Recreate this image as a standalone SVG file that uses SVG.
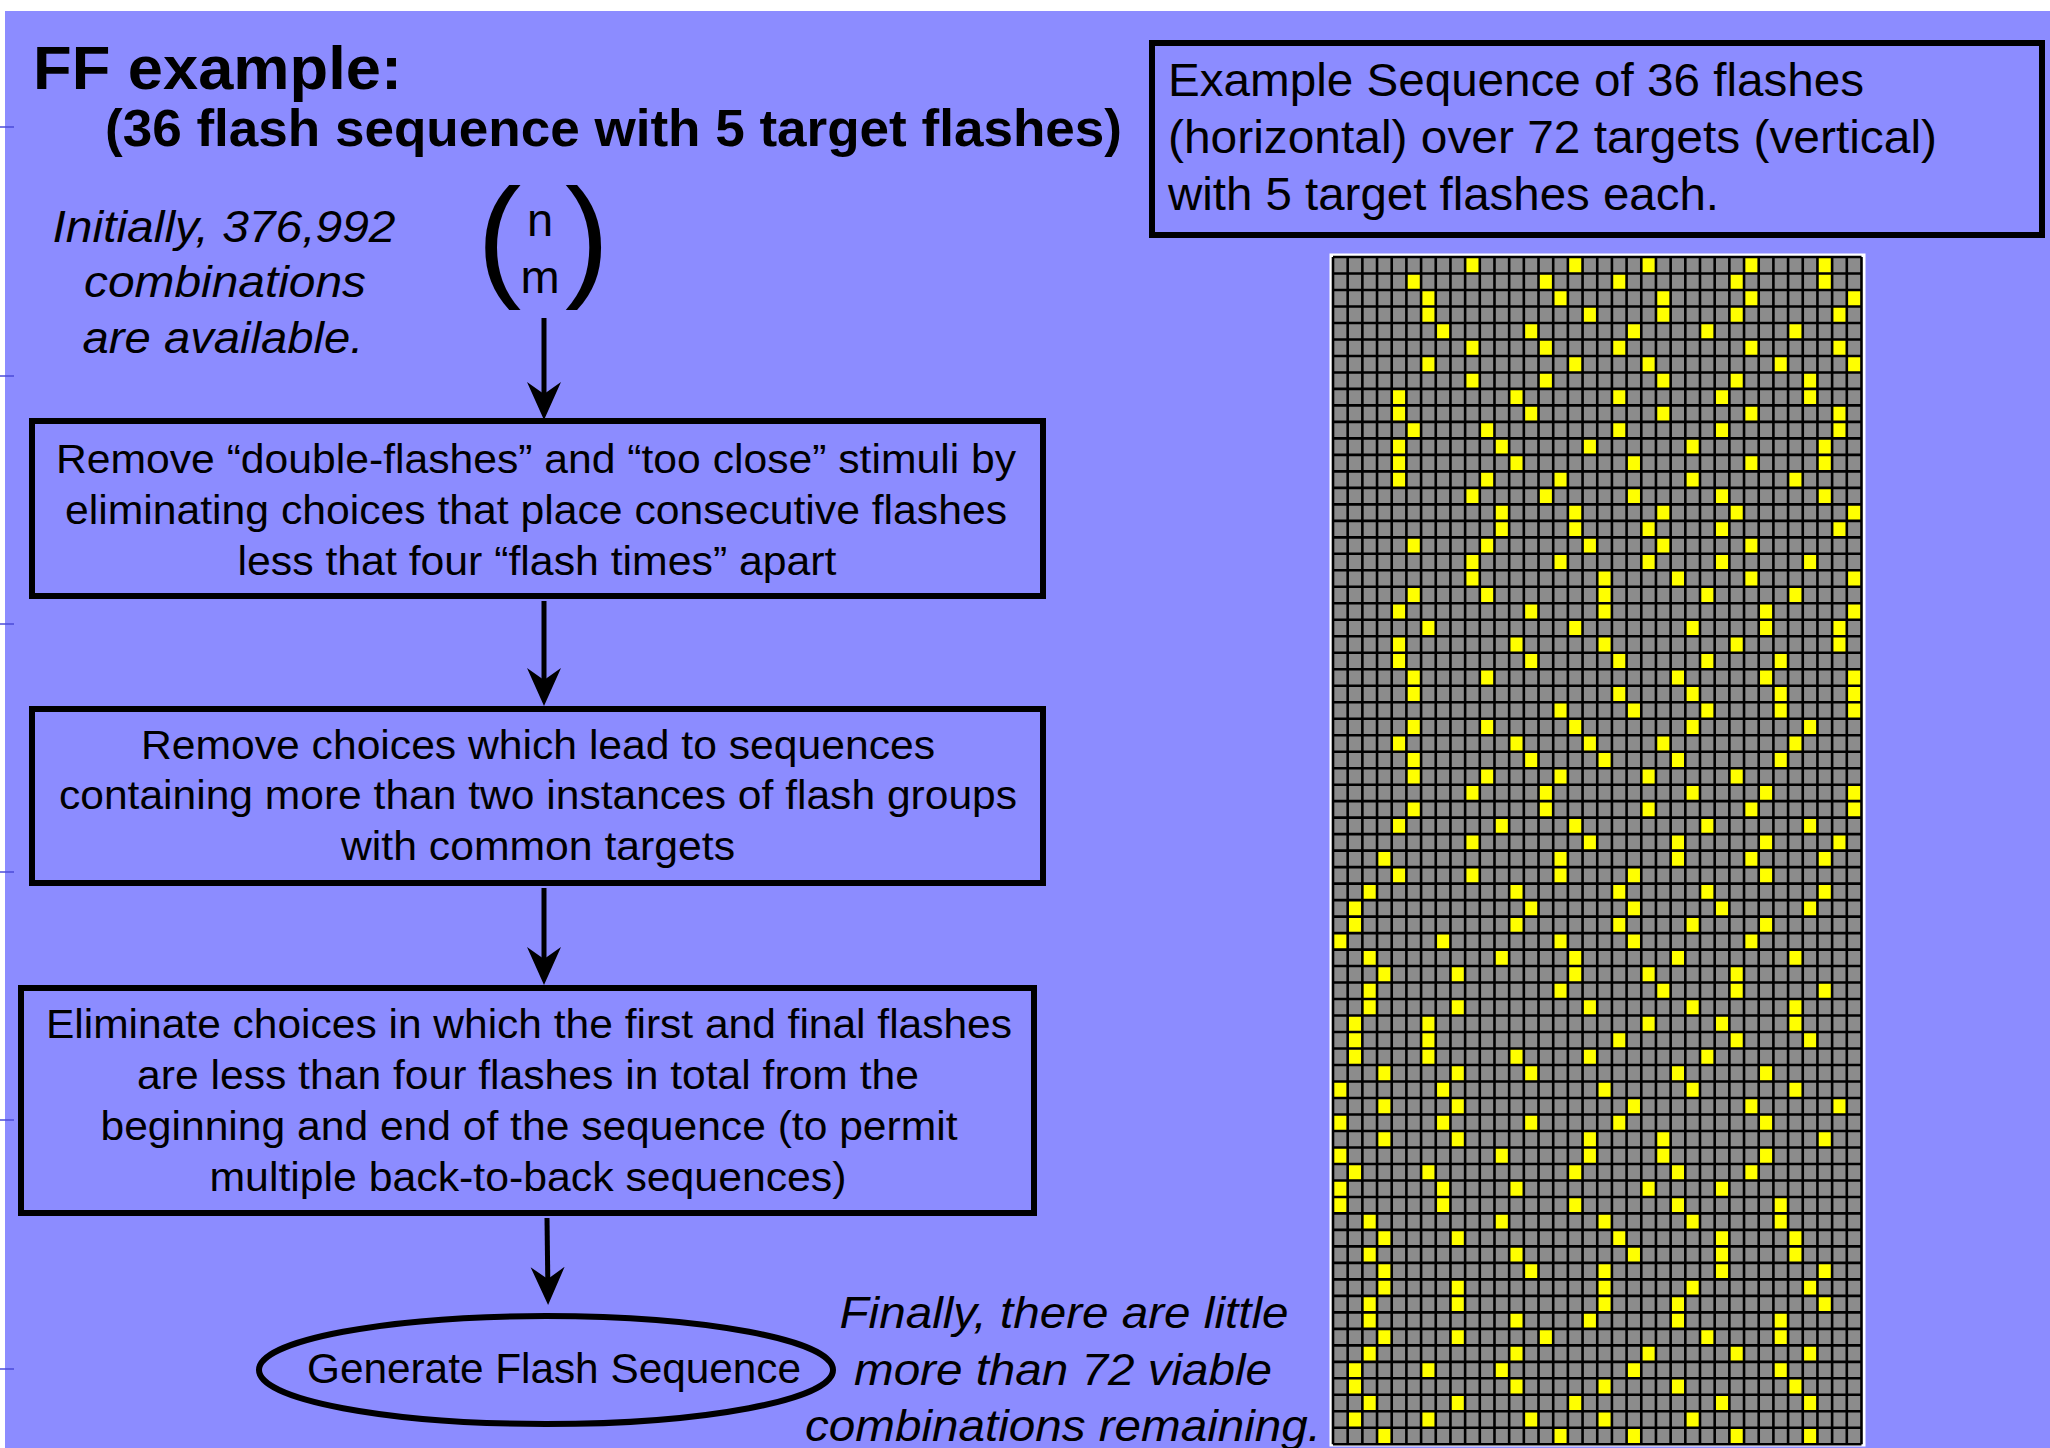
<svg xmlns="http://www.w3.org/2000/svg" width="2050" height="1448" viewBox="0 0 2050 1448">
<defs>
<style>
.t{font-family:"Liberation Sans",Arial,Helvetica,sans-serif;fill:#000}
.b{font-weight:bold}
.i{font-style:italic}
.box{fill:none;stroke:#000;stroke-width:6}
.conn{stroke:#000;stroke-width:5;fill:none;marker-end:url(#ah)}
.tick{stroke:#4b4bd8;stroke-width:1.5}
</style>
<marker id="ah" markerUnits="userSpaceOnUse" viewBox="-40 -20 50 40" refX="0" refY="0" markerWidth="50" markerHeight="40" orient="auto">
<path d="M8,0 L-30,-17 L-18,0 L-30,17 Z" fill="#000"/>
</marker>
</defs>
<rect width="2050" height="1448" fill="#fff"/>
<rect x="5" y="11" width="2045" height="1437" fill="#8c8cff"/>
<g id="edge-ticks">
<line class="tick" x1="0" y1="127" x2="14" y2="127"/>
<line class="tick" x1="0" y1="376" x2="14" y2="376"/>
<line class="tick" x1="0" y1="624" x2="14" y2="624"/>
<line class="tick" x1="0" y1="872" x2="14" y2="872"/>
<line class="tick" x1="0" y1="1120" x2="14" y2="1120"/>
<line class="tick" x1="0" y1="1369" x2="14" y2="1369"/>
</g>
<g id="title">
<text class="t b" x="33" y="89" font-size="62" textLength="369" lengthAdjust="spacingAndGlyphs">FF example:</text>
<text class="t b" x="105" y="146" font-size="52" textLength="1017" lengthAdjust="spacingAndGlyphs">(36 flash sequence with 5 target flashes)</text>
</g>
<g id="note-initial">
<text class="t i" x="224" y="242" font-size="44" text-anchor="middle" textLength="343" lengthAdjust="spacingAndGlyphs">Initially, 376,992</text>
<text class="t i" x="225" y="297" font-size="44" text-anchor="middle" textLength="282" lengthAdjust="spacingAndGlyphs">combinations</text>
<text class="t i" x="223" y="353" font-size="44" text-anchor="middle" textLength="281" lengthAdjust="spacingAndGlyphs">are available.</text>
</g>
<g id="binomial">
<text class="t" x="477" y="282" font-size="133">(</text>
<text class="t" x="565" y="282" font-size="133">)</text>
<text class="t" x="540" y="236" font-size="47" text-anchor="middle">n</text>
<text class="t" x="540" y="293" font-size="47" text-anchor="middle">m</text>
</g>
<g id="step-remove-close">
<rect class="box" x="32" y="421" width="1011" height="175"/>
<text class="t" x="536" y="473" font-size="40" text-anchor="middle" textLength="960" lengthAdjust="spacingAndGlyphs">Remove “double-flashes” and “too close” stimuli by</text>
<text class="t" x="536" y="524" font-size="40" text-anchor="middle" textLength="942" lengthAdjust="spacingAndGlyphs">eliminating choices that place consecutive flashes</text>
<text class="t" x="537" y="575" font-size="40" text-anchor="middle" textLength="599" lengthAdjust="spacingAndGlyphs">less that four “flash times” apart</text>
</g>
<g id="step-remove-groups">
<rect class="box" x="32" y="709" width="1011" height="174"/>
<text class="t" x="538" y="759" font-size="40" text-anchor="middle" textLength="794" lengthAdjust="spacingAndGlyphs">Remove choices which lead to sequences</text>
<text class="t" x="538" y="809" font-size="40" text-anchor="middle" textLength="958" lengthAdjust="spacingAndGlyphs">containing more than two instances of flash groups</text>
<text class="t" x="538" y="860" font-size="40" text-anchor="middle" textLength="394" lengthAdjust="spacingAndGlyphs">with common targets</text>
</g>
<g id="step-eliminate-ends">
<rect class="box" x="21" y="988" width="1013" height="225"/>
<text class="t" x="529" y="1038" font-size="40" text-anchor="middle" textLength="966" lengthAdjust="spacingAndGlyphs">Eliminate choices in which the first and final flashes</text>
<text class="t" x="528" y="1089" font-size="40" text-anchor="middle" textLength="782" lengthAdjust="spacingAndGlyphs">are less than four flashes in total from the</text>
<text class="t" x="529" y="1140" font-size="40" text-anchor="middle" textLength="857" lengthAdjust="spacingAndGlyphs">beginning and end of the sequence (to permit</text>
<text class="t" x="528" y="1191" font-size="40" text-anchor="middle" textLength="637" lengthAdjust="spacingAndGlyphs">multiple back-to-back sequences)</text>
</g>
<g id="generate">
<ellipse cx="546" cy="1370" rx="287" ry="54" fill="none" stroke="#000" stroke-width="6"/>
<text class="t" x="554" y="1383" font-size="42" text-anchor="middle" textLength="494" lengthAdjust="spacingAndGlyphs">Generate Flash Sequence</text>
</g>
<g id="note-final">
<text class="t i" x="1064" y="1328" font-size="44" text-anchor="middle" textLength="449" lengthAdjust="spacingAndGlyphs">Finally, there are little</text>
<text class="t i" x="1063" y="1385" font-size="44" text-anchor="middle" textLength="418" lengthAdjust="spacingAndGlyphs">more than 72 viable</text>
<text class="t i" x="1063" y="1441" font-size="44" text-anchor="middle" textLength="516" lengthAdjust="spacingAndGlyphs">combinations remaining.</text>
</g>
<g id="caption-box">
<rect class="box" x="1152" y="43" width="890" height="192"/>
<text class="t" x="1168" y="96" font-size="46" textLength="696" lengthAdjust="spacingAndGlyphs">Example Sequence of 36 flashes</text>
<text class="t" x="1168" y="153" font-size="46" textLength="769" lengthAdjust="spacingAndGlyphs">(horizontal) over 72 targets (vertical)</text>
<text class="t" x="1168" y="210" font-size="46" textLength="551" lengthAdjust="spacingAndGlyphs">with 5 target flashes each.</text>
</g>
<g id="sequence-grid">
<rect x="1329.5" y="253.5" width="536" height="1193" fill="#fff"/>
<g transform="translate(1333 257) scale(14.68 16.49)">
<rect width="36" height="72" fill="#8c8c8c"/>
<path fill="#ffff00" d="M9 0h1v1h-1zM16 0h1v1h-1zM21 0h1v1h-1zM28 0h1v1h-1zM33 0h1v1h-1z
M5 1h1v1h-1zM14 1h1v1h-1zM19 1h1v1h-1zM27 1h1v1h-1zM33 1h1v1h-1z
M6 2h1v1h-1zM15 2h1v1h-1zM22 2h1v1h-1zM28 2h1v1h-1zM35 2h1v1h-1z
M6 3h1v1h-1zM17 3h1v1h-1zM22 3h1v1h-1zM27 3h1v1h-1zM34 3h1v1h-1z
M7 4h1v1h-1zM13 4h1v1h-1zM20 4h1v1h-1zM25 4h1v1h-1zM31 4h1v1h-1z
M9 5h1v1h-1zM14 5h1v1h-1zM19 5h1v1h-1zM28 5h1v1h-1zM34 5h1v1h-1z
M6 6h1v1h-1zM16 6h1v1h-1zM21 6h1v1h-1zM30 6h1v1h-1zM35 6h1v1h-1z
M9 7h1v1h-1zM14 7h1v1h-1zM22 7h1v1h-1zM27 7h1v1h-1zM32 7h1v1h-1z
M4 8h1v1h-1zM12 8h1v1h-1zM19 8h1v1h-1zM26 8h1v1h-1zM32 8h1v1h-1z
M4 9h1v1h-1zM13 9h1v1h-1zM22 9h1v1h-1zM28 9h1v1h-1zM34 9h1v1h-1z
M5 10h1v1h-1zM10 10h1v1h-1zM19 10h1v1h-1zM26 10h1v1h-1zM34 10h1v1h-1z
M4 11h1v1h-1zM11 11h1v1h-1zM17 11h1v1h-1zM24 11h1v1h-1zM33 11h1v1h-1z
M4 12h1v1h-1zM12 12h1v1h-1zM20 12h1v1h-1zM28 12h1v1h-1zM33 12h1v1h-1z
M4 13h1v1h-1zM10 13h1v1h-1zM15 13h1v1h-1zM24 13h1v1h-1zM31 13h1v1h-1z
M9 14h1v1h-1zM14 14h1v1h-1zM20 14h1v1h-1zM26 14h1v1h-1zM33 14h1v1h-1z
M11 15h1v1h-1zM16 15h1v1h-1zM22 15h1v1h-1zM27 15h1v1h-1zM35 15h1v1h-1z
M11 16h1v1h-1zM16 16h1v1h-1zM21 16h1v1h-1zM26 16h1v1h-1zM34 16h1v1h-1z
M5 17h1v1h-1zM10 17h1v1h-1zM17 17h1v1h-1zM22 17h1v1h-1zM28 17h1v1h-1z
M9 18h1v1h-1zM15 18h1v1h-1zM21 18h1v1h-1zM26 18h1v1h-1zM32 18h1v1h-1z
M9 19h1v1h-1zM18 19h1v1h-1zM23 19h1v1h-1zM28 19h1v1h-1zM35 19h1v1h-1z
M5 20h1v1h-1zM10 20h1v1h-1zM18 20h1v1h-1zM25 20h1v1h-1zM31 20h1v1h-1z
M4 21h1v1h-1zM13 21h1v1h-1zM18 21h1v1h-1zM29 21h1v1h-1zM35 21h1v1h-1z
M6 22h1v1h-1zM16 22h1v1h-1zM24 22h1v1h-1zM29 22h1v1h-1zM34 22h1v1h-1z
M4 23h1v1h-1zM12 23h1v1h-1zM18 23h1v1h-1zM27 23h1v1h-1zM34 23h1v1h-1z
M4 24h1v1h-1zM13 24h1v1h-1zM19 24h1v1h-1zM25 24h1v1h-1zM30 24h1v1h-1z
M5 25h1v1h-1zM10 25h1v1h-1zM23 25h1v1h-1zM29 25h1v1h-1zM35 25h1v1h-1z
M5 26h1v1h-1zM19 26h1v1h-1zM24 26h1v1h-1zM30 26h1v1h-1zM35 26h1v1h-1z
M15 27h1v1h-1zM20 27h1v1h-1zM25 27h1v1h-1zM30 27h1v1h-1zM35 27h1v1h-1z
M5 28h1v1h-1zM10 28h1v1h-1zM16 28h1v1h-1zM24 28h1v1h-1zM32 28h1v1h-1z
M4 29h1v1h-1zM12 29h1v1h-1zM17 29h1v1h-1zM22 29h1v1h-1zM31 29h1v1h-1z
M5 30h1v1h-1zM13 30h1v1h-1zM18 30h1v1h-1zM23 30h1v1h-1zM30 30h1v1h-1z
M5 31h1v1h-1zM10 31h1v1h-1zM15 31h1v1h-1zM21 31h1v1h-1zM27 31h1v1h-1z
M9 32h1v1h-1zM14 32h1v1h-1zM24 32h1v1h-1zM29 32h1v1h-1zM35 32h1v1h-1z
M5 33h1v1h-1zM14 33h1v1h-1zM21 33h1v1h-1zM28 33h1v1h-1zM35 33h1v1h-1z
M4 34h1v1h-1zM11 34h1v1h-1zM16 34h1v1h-1zM25 34h1v1h-1zM32 34h1v1h-1z
M9 35h1v1h-1zM17 35h1v1h-1zM23 35h1v1h-1zM29 35h1v1h-1zM34 35h1v1h-1z
M3 36h1v1h-1zM15 36h1v1h-1zM23 36h1v1h-1zM28 36h1v1h-1zM33 36h1v1h-1z
M4 37h1v1h-1zM9 37h1v1h-1zM15 37h1v1h-1zM20 37h1v1h-1zM29 37h1v1h-1z
M2 38h1v1h-1zM12 38h1v1h-1zM19 38h1v1h-1zM25 38h1v1h-1zM33 38h1v1h-1z
M1 39h1v1h-1zM13 39h1v1h-1zM20 39h1v1h-1zM26 39h1v1h-1zM32 39h1v1h-1z
M1 40h1v1h-1zM12 40h1v1h-1zM19 40h1v1h-1zM24 40h1v1h-1zM29 40h1v1h-1z
M0 41h1v1h-1zM7 41h1v1h-1zM15 41h1v1h-1zM20 41h1v1h-1zM28 41h1v1h-1z
M2 42h1v1h-1zM11 42h1v1h-1zM16 42h1v1h-1zM23 42h1v1h-1zM31 42h1v1h-1z
M3 43h1v1h-1zM8 43h1v1h-1zM16 43h1v1h-1zM21 43h1v1h-1zM27 43h1v1h-1z
M2 44h1v1h-1zM15 44h1v1h-1zM22 44h1v1h-1zM27 44h1v1h-1zM33 44h1v1h-1z
M2 45h1v1h-1zM8 45h1v1h-1zM17 45h1v1h-1zM24 45h1v1h-1zM31 45h1v1h-1z
M1 46h1v1h-1zM6 46h1v1h-1zM21 46h1v1h-1zM26 46h1v1h-1zM31 46h1v1h-1z
M1 47h1v1h-1zM6 47h1v1h-1zM19 47h1v1h-1zM27 47h1v1h-1zM32 47h1v1h-1z
M1 48h1v1h-1zM6 48h1v1h-1zM12 48h1v1h-1zM17 48h1v1h-1zM25 48h1v1h-1z
M3 49h1v1h-1zM8 49h1v1h-1zM13 49h1v1h-1zM23 49h1v1h-1zM29 49h1v1h-1z
M0 50h1v1h-1zM7 50h1v1h-1zM18 50h1v1h-1zM24 50h1v1h-1zM31 50h1v1h-1z
M3 51h1v1h-1zM8 51h1v1h-1zM20 51h1v1h-1zM28 51h1v1h-1zM34 51h1v1h-1z
M0 52h1v1h-1zM7 52h1v1h-1zM13 52h1v1h-1zM19 52h1v1h-1zM29 52h1v1h-1z
M3 53h1v1h-1zM8 53h1v1h-1zM17 53h1v1h-1zM22 53h1v1h-1zM33 53h1v1h-1z
M0 54h1v1h-1zM11 54h1v1h-1zM17 54h1v1h-1zM22 54h1v1h-1zM29 54h1v1h-1z
M1 55h1v1h-1zM6 55h1v1h-1zM16 55h1v1h-1zM23 55h1v1h-1zM28 55h1v1h-1z
M0 56h1v1h-1zM7 56h1v1h-1zM12 56h1v1h-1zM21 56h1v1h-1zM26 56h1v1h-1z
M0 57h1v1h-1zM7 57h1v1h-1zM16 57h1v1h-1zM23 57h1v1h-1zM30 57h1v1h-1z
M2 58h1v1h-1zM11 58h1v1h-1zM18 58h1v1h-1zM24 58h1v1h-1zM30 58h1v1h-1z
M3 59h1v1h-1zM8 59h1v1h-1zM19 59h1v1h-1zM26 59h1v1h-1zM31 59h1v1h-1z
M2 60h1v1h-1zM12 60h1v1h-1zM20 60h1v1h-1zM26 60h1v1h-1zM31 60h1v1h-1z
M3 61h1v1h-1zM13 61h1v1h-1zM18 61h1v1h-1zM26 61h1v1h-1zM33 61h1v1h-1z
M3 62h1v1h-1zM8 62h1v1h-1zM18 62h1v1h-1zM24 62h1v1h-1zM32 62h1v1h-1z
M2 63h1v1h-1zM8 63h1v1h-1zM18 63h1v1h-1zM23 63h1v1h-1zM33 63h1v1h-1z
M2 64h1v1h-1zM12 64h1v1h-1zM17 64h1v1h-1zM23 64h1v1h-1zM30 64h1v1h-1z
M3 65h1v1h-1zM8 65h1v1h-1zM14 65h1v1h-1zM25 65h1v1h-1zM30 65h1v1h-1z
M2 66h1v1h-1zM12 66h1v1h-1zM21 66h1v1h-1zM27 66h1v1h-1zM32 66h1v1h-1z
M1 67h1v1h-1zM6 67h1v1h-1zM11 67h1v1h-1zM20 67h1v1h-1zM30 67h1v1h-1z
M1 68h1v1h-1zM12 68h1v1h-1zM18 68h1v1h-1zM23 68h1v1h-1zM31 68h1v1h-1z
M2 69h1v1h-1zM8 69h1v1h-1zM16 69h1v1h-1zM26 69h1v1h-1zM32 69h1v1h-1z
M1 70h1v1h-1zM6 70h1v1h-1zM13 70h1v1h-1zM18 70h1v1h-1zM24 70h1v1h-1z
M3 71h1v1h-1zM15 71h1v1h-1zM20 71h1v1h-1zM27 71h1v1h-1zM32 71h1v1h-1z"/>
<path fill="none" stroke="#000" stroke-width="2.6" vector-effect="non-scaling-stroke" d="M0 0V72M1 0V72M2 0V72M3 0V72M4 0V72M5 0V72M6 0V72M7 0V72M8 0V72M9 0V72M10 0V72M11 0V72M12 0V72M13 0V72M14 0V72M15 0V72M16 0V72M17 0V72M18 0V72M19 0V72M20 0V72M21 0V72M22 0V72M23 0V72M24 0V72M25 0V72M26 0V72M27 0V72M28 0V72M29 0V72M30 0V72M31 0V72M32 0V72M33 0V72M34 0V72M35 0V72M36 0V72
M0 0H36M0 1H36M0 2H36M0 3H36M0 4H36M0 5H36M0 6H36M0 7H36M0 8H36M0 9H36M0 10H36M0 11H36M0 12H36M0 13H36M0 14H36M0 15H36M0 16H36M0 17H36M0 18H36M0 19H36M0 20H36M0 21H36M0 22H36M0 23H36M0 24H36M0 25H36M0 26H36M0 27H36M0 28H36M0 29H36M0 30H36M0 31H36M0 32H36M0 33H36M0 34H36M0 35H36M0 36H36M0 37H36M0 38H36M0 39H36M0 40H36M0 41H36M0 42H36M0 43H36M0 44H36M0 45H36M0 46H36M0 47H36M0 48H36M0 49H36M0 50H36M0 51H36M0 52H36M0 53H36M0 54H36M0 55H36M0 56H36M0 57H36M0 58H36M0 59H36M0 60H36M0 61H36M0 62H36M0 63H36M0 64H36M0 65H36M0 66H36M0 67H36M0 68H36M0 69H36M0 70H36M0 71H36M0 72H36"/>
</g>
</g>
<g id="connectors">
<line class="conn" x1="544" y1="318" x2="544" y2="412"/>
<line class="conn" x1="544" y1="601" x2="544" y2="698"/>
<line class="conn" x1="544" y1="888" x2="544" y2="977"/>
<line class="conn" x1="547" y1="1218" x2="548" y2="1297"/>
</g>
</svg>
